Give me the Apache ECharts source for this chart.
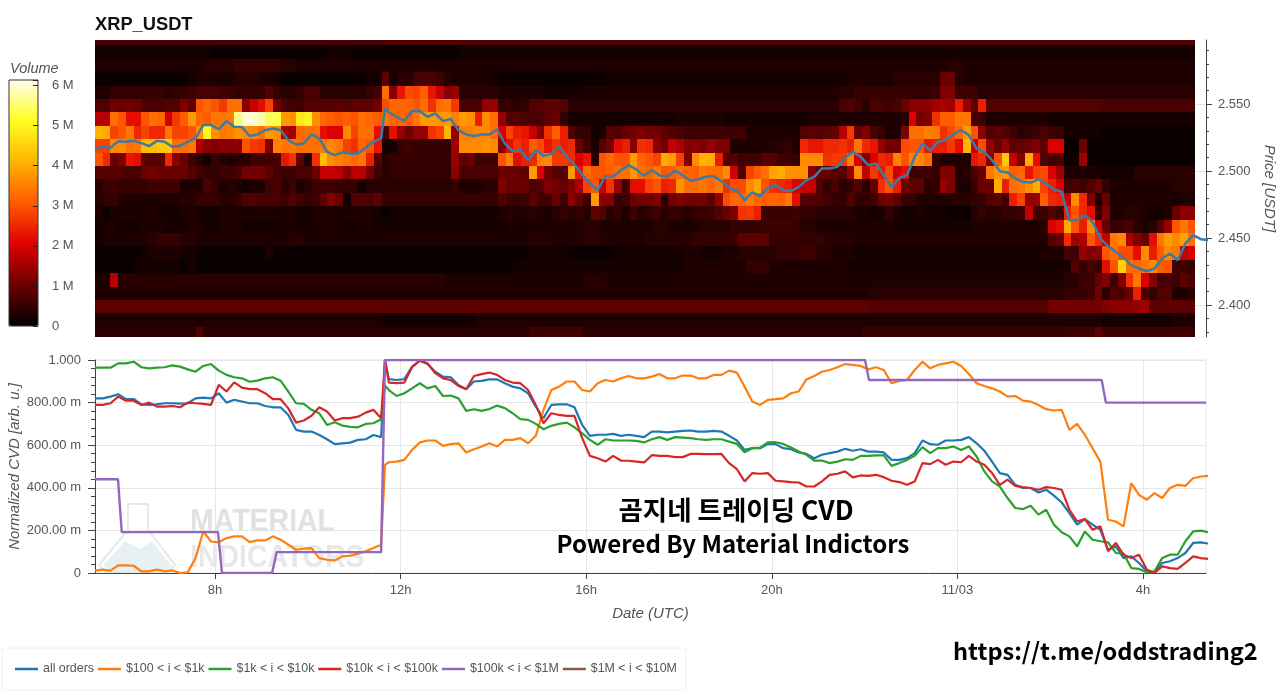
<!DOCTYPE html>
<html>
<head>
<meta charset="utf-8">
<title>XRP_USDT CVD</title>
<script src="https://cdn.jsdelivr.net/npm/echarts@6/dist/echarts.min.js"></script>
<style>
  html, body { margin: 0; padding: 0; background: #fff; }
  #chart { width: 1280px; height: 691px; }
</style>
</head>
<body>
<div id="chart"></div>
<script>
// price axis (USDT)
const priceTicks = [2.4, 2.45, 2.5, 2.55]
const priceMinorTicks = [2.38, 2.39, 2.41, 2.42, 2.43, 2.44, 2.46, 2.47, 2.48, 2.49, 2.51, 2.52, 2.53, 2.54, 2.56, 2.57, 2.58, 2.59]
// hours since 11/02 00:00
const hourTicks = [8, 12, 16, 20, 24, 28]
const hourLabels = ['8h', '12h', '16h', '20h', '11/03', '4h']
const cvdLabels = ['0', '200.00 m', '400.00 m', '600.00 m', '800.00 m', '1.000']
const volumeLabels = ['0', '1 M', '2 M', '3 M', '4 M', '5 M', '6 M']

// lower edge of each volume bin, top row first
const heatBinLow = [2.5937, 2.5837, 2.5737, 2.5637, 2.5537, 2.5437, 2.5337, 2.5237, 2.5137, 2.5037, 2.4937, 2.4837, 2.4737, 2.4637, 2.4537, 2.4437, 2.4337, 2.4237, 2.4137, 2.4037, 2.3937, 2.3837, 2.3737]

// volume per 10 minute bin, in 0.1 M
const heat00 = [7,7,7,7,7,7,7,7,7,7, 7,7,7,7,7,7,7,7,7,7, 7,7,7,7,7,7,7,7,7,7, 7,7,7,7,7,7,7,8,8,8, 8,8,8,8,8,8,8,8,8,8, 8,8,8,8,8,8,8,8,8,8, 8,8,8,8,8,8,8,8,8,8, 8,8,8,8,8,8,8,8,8,8, 8,8,8,8,8,8,8,8,8,8, 8,8,8,8,8,8,8,8,8,8, 8,8,8,8,8,8,8,8,8,8, 8,8,8,8,8,8,8,8,8,8, 8,8,8,8,8,8,8,8,8,8, 8,8,8,8,8,8,8,8,8,8, 8,8]
const heat01 = [2,2,2,2,2,2,2,2,2,2, 2,2,2,2,2,1,1,1,1,1, 1,1,1,1,1,1,1,1,1,1, 2,2,2,1,1,1,1,1,1,1, 1,1,1,1,1,1,1,2,2,2, 2,2,2,2,2,2,2,2,2,2, 2,2,2,2,2,2,2,2,2,2, 2,2,2,2,2,2,2,2,2,2, 2,2,2,2,2,2,2,2,2,2, 2,2,2,2,2,2,2,2,2,2, 2,2,2,2,2,2,2,2,2,2, 2,2,2,2,2,2,2,2,2,2, 2,2,2,2,2,2,2,2,2,2, 2,2,2,2,2,2,2,2,2,2, 2,2]
const heat02 = [3,3,3,3,3,3,3,3,3,3, 3,3,3,3,4,4,4,4,5,5, 5,5,5,5,4,4,3,3,3,3, 3,3,3,3,3,3,3,3,3,3, 3,3,3,3,3,3,3,3,3,3, 3,3,3,3,3,3,3,3,3,3, 3,3,3,3,3,3,3,3,3,3, 3,3,3,3,3,3,3,3,3,3, 3,3,3,3,3,3,3,3,3,3, 3,3,3,3,3,3,3,3,3,3, 3,3,3,3,3,3,3,3,3,3, 4,4,3,3,3,3,3,3,3,3, 3,3,3,3,3,3,3,3,3,3, 3,3,3,3,3,3,3,3,3,3, 3,3]
const heat03 = [1,1,1,1,1,1,1,1,1,1, 1,1,2,3,3,3,3,3,4,4, 4,3,3,2,1,1,1,1,1,1, 1,1,1,1,1,2,2,9,2,4, 4,7,7,7,6,4,3,3,3,3, 3,2,1,1,1,1,1,1,1,1, 1,1,1,1,1,1,2,2,2,2, 2,2,2,2,2,2,2,2,2,2, 2,2,2,2,2,2,2,2,2,2, 2,2,2,2,2,2,2,3,3,3, 3,3,3,4,4,4,4,4,4,10, 10,4,3,3,3,3,3,3,3,3, 3,3,3,3,3,3,3,3,3,3, 3,3,3,3,3,3,3,3,3,3, 3,3]
const heat04 = [3,3,5,5,5,5,5,5,5,4, 5,5,6,7,7,7,6,6,5,5, 5,5,8,5,4,4,5,7,7,4, 4,4,4,4,4,5,7,33,13,23, 29,28,31,23,18,13,14,4,4,4, 4,4,3,3,3,3,3,3,2,2, 2,2,2,3,3,3,3,3,3,3, 3,3,3,3,3,3,3,3,3,3, 3,3,3,3,3,3,3,3,3,3, 3,3,3,3,3,3,4,4,5,5, 5,5,5,5,5,5,5,5,6,12, 12,6,6,6,4,4,4,4,4,4, 4,4,4,4,4,4,4,4,4,4, 4,4,4,4,4,4,4,4,4,4, 4,4]
const heat05 = [8,7,11,10,11,10,7,7,7,8, 8,12,9,30,32,30,27,33,33,13, 18,22,28,11,7,6,6,8,8,8, 8,9,8,9,9,9,11,29,32,32, 32,30,33,26,33,34,27,7,7,7, 14,14,5,5,4,5,8,8,9,9, 8,4,4,4,4,4,4,4,4,4, 4,4,4,4,4,4,4,4,4,4, 4,4,4,4,4,4,4,4,4,4, 4,4,4,4,4,4,7,8,6,4, 7,7,6,7,10,13,13,13,15,16, 15,24,14,9,24,8,8,8,8,8, 8,8,8,8,8,8,8,8,8,8, 7,7,7,7,7,7,7,7,7,7, 7,7]
const heat06 = [17,17,33,30,22,22,30,33,32,19, 27,31,38,32,31,34,34,35,56,60, 60,58,54,53,38,37,48,50,37,32, 31,30,31,30,33,32,31,34,32,32, 31,34,38,38,37,38,35,38,37,24, 36,33,14,8,8,7,7,7,9,10, 5,2,2,2,2,2,2,2,2,2, 2,2,2,2,2,3,3,3,3,3, 3,2,2,2,2,2,2,2,2,2, 2,2,3,3,3,3,3,3,3,3, 3,3,3,3,4,20,11,12,26,31, 31,34,34,7,6,3,3,3,3,3, 3,3,3,2,2,2,2,2,2,2, 2,2,2,2,2,2,2,2,2,2, 2,2]
const heat07 = [41,40,28,30,34,25,28,25,25,34, 28,28,30,37,50,37,34,35,37,36, 36,33,38,37,16,15,32,33,33,22, 20,20,36,28,33,33,22,7,22,14, 11,14,14,26,28,41,14,35,35,36, 36,33,20,28,24,23,18,13,26,31, 24,8,5,5,2,3,8,8,10,11, 12,11,11,9,8,7,6,6,6,6, 6,6,6,6,3,3,3,3,3,3, 3,8,9,8,9,10,17,27,10,12, 7,5,3,3,12,33,33,35,34,26, 29,32,38,30,13,8,9,8,6,4, 5,6,7,6,5,2,2,2,2,2, 1,1,1,1,1,1,1,1,1,1, 1,1]
const heat08 = [28,28,36,36,33,34,42,42,44,44, 33,33,34,16,13,12,13,13,13,30, 27,26,12,35,34,34,33,33,33,34, 36,34,28,26,32,30,23,2,2,5, 6,5,5,5,5,5,15,36,36,36, 37,36,12,22,26,24,31,29,23,26, 24,25,10,6,3,8,11,22,24,13, 26,25,13,11,18,16,12,13,12,14, 12,12,3,3,3,3,3,4,4,5, 3,25,23,23,25,25,26,24,34,25, 23,14,11,11,29,30,30,23,24,24, 27,22,41,18,29,14,10,14,9,10, 11,12,9,20,20,1,1,10,1,1, 1,1,1,1,1,1,1,1,1,1, 1,1]
const heat09 = [30,25,10,12,23,22,9,8,9,25, 13,10,6,4,2,5,4,3,4,4, 6,6,6,7,23,26,9,3,26,42, 36,35,34,32,34,24,8,4,5,5, 5,5,5,5,5,5,14,9,10,6, 6,6,30,35,22,24,25,35,36,27, 27,25,20,23,4,30,32,30,30,38, 32,30,28,40,38,28,12,36,41,40, 24,8,8,6,6,6,8,8,6,6, 5,36,36,36,26,27,27,35,20,12, 20,25,24,35,30,36,36,33,5,3, 3,3,3,23,25,12,30,44,18,12, 40,22,8,6,7,1,2,15,1,1, 1,1,1,1,1,1,1,1,1,1, 1,1]
const heat10 = [8,8,8,8,7,7,10,11,10,10, 10,10,8,6,5,5,6,6,7,11, 11,11,9,6,6,6,7,7,10,18, 18,17,13,17,17,11,6,4,5,5, 5,5,5,5,5,5,13,7,7,7, 7,7,10,10,10,9,38,20,11,8, 8,38,23,33,30,30,31,33,33,38, 33,32,34,30,31,33,32,31,34,33, 33,36,19,8,28,31,33,39,40,37, 37,37,13,10,10,8,8,14,36,18, 27,23,29,19,22,6,6,6,5,12, 12,3,4,7,10,34,37,38,31,32, 23,28,29,20,15,3,3,3,3,2, 2,2,2,2,4,4,4,4,4,4, 4,4]
const heat11 = [4,6,6,5,5,5,5,6,6,6, 6,3,3,3,7,5,3,4,3,2, 3,3,6,7,4,6,3,4,6,6, 6,5,5,5,2,4,4,4,4,4, 4,4,4,4,4,4,5,3,3,3, 4,4,12,10,10,10,7,8,12,11, 10,12,16,28,30,18,26,14,6,22, 22,28,30,24,25,37,33,33,34,32, 34,26,29,29,36,39,30,26,25,24, 20,19,18,8,5,7,4,5,8,4, 9,26,30,24,10,9,9,4,5,14, 12,3,3,5,10,10,40,24,33,34, 37,40,28,24,20,6,7,6,8,10, 5,3,3,3,3,3,3,3,3,4, 4,4]
const heat12 = [4,5,5,3,3,3,3,3,3,3, 3,4,4,5,5,5,4,4,5,8, 8,7,7,7,6,8,6,5,6,9, 12,10,2,8,8,7,9,5,5,5, 5,5,5,5,5,5,5,5,5,5, 5,5,8,6,5,6,9,6,6,10, 6,13,10,6,38,13,13,5,6,10, 11,11,12,4,10,12,11,11,11,9, 14,29,32,32,34,32,31,32,31,34, 22,8,8,8,6,5,5,8,5,5, 6,10,11,9,5,5,3,3,3,3, 4,4,4,5,5,8,9,6,24,28, 14,14,31,25,24,18,36,25,12,3, 10,3,3,3,3,3,3,3,3,2, 3,3]
const heat13 = [3,1,3,3,3,3,3,3,2,2, 2,3,3,2,2,2,3,3,3,3, 3,3,3,3,3,3,2,2,3,3, 3,3,3,3,3,3,2,1,2,2, 2,2,2,2,2,2,2,2,2,2, 2,2,3,4,3,4,4,3,3,4, 5,4,5,4,9,8,4,5,3,6, 4,5,6,4,5,5,4,5,5,6, 8,10,12,26,27,24,6,5,5,5, 6,5,5,4,4,4,4,4,3,3, 2,3,5,3,2,2,3,2,2,2, 1,1,1,4,5,4,4,5,5,6, 18,6,6,8,6,24,30,25,22,5, 12,3,3,4,4,3,2,2,3,10, 13,13]
const heat14 = [2,3,3,2,2,2,3,3,3,2, 2,2,3,3,2,2,3,3,3,2, 2,2,2,2,3,3,2,2,3,3, 3,3,2,2,3,3,2,2,2,2, 2,2,2,2,2,2,2,2,2,2, 2,2,2,3,3,2,3,3,3,3, 3,3,3,4,4,3,3,3,3,3, 3,3,4,4,3,3,3,3,4,4, 4,4,5,5,5,5,6,6,6,6, 5,4,4,3,3,3,3,3,3,3, 3,3,3,2,2,2,2,2,2,2, 2,2,2,3,3,3,3,3,3,3, 3,3,4,20,22,40,30,24,36,20, 10,5,6,7,4,3,4,8,14,30, 34,30]
const heat15 = [2,3,3,3,3,3,3,4,5,5, 5,4,4,3,3,3,3,3,3,3, 3,3,3,3,3,4,4,3,3,3, 3,3,3,3,3,3,3,3,3,3, 3,3,3,3,3,3,3,3,3,3, 3,3,3,3,3,3,4,4,4,3, 3,3,3,4,4,4,3,3,3,3, 3,4,4,4,4,4,4,5,5,5, 5,5,5,9,9,9,9,5,5,5, 5,5,5,5,4,4,4,4,3,3, 3,3,3,3,3,3,3,3,3,3, 3,3,3,3,3,3,3,3,3,3, 3,3,3,8,10,25,15,16,30,25, 18,34,36,16,12,10,22,34,38,36, 39,33]
const heat16 = [1,1,1,1,1,1,2,3,3,3, 3,2,2,1,1,1,1,1,1,1, 1,1,3,1,1,1,1,1,1,1, 1,1,1,1,1,1,1,1,1,1, 1,1,1,1,1,1,1,1,1,1, 1,1,1,1,1,1,2,2,2,2, 2,1,1,1,1,1,1,2,2,2, 2,2,2,2,2,2,3,3,2,2, 2,3,3,4,4,4,4,4,5,5, 5,6,6,4,4,3,3,3,2,2, 2,2,2,2,2,2,2,2,2,2, 2,2,2,2,2,2,2,2,2,2, 2,2,3,3,3,7,6,14,12,13, 30,33,29,29,22,36,24,31,36,34, 18,20]
const heat17 = [1,1,1,1,1,2,2,2,2,2, 2,1,2,1,1,1,1,1,1,1, 1,1,1,1,1,1,1,1,1,1, 1,1,1,1,1,1,1,1,1,1, 1,1,1,1,1,1,1,1,1,1, 1,1,1,1,2,2,2,2,2,2, 2,2,2,2,2,2,2,2,2,2, 2,2,2,2,2,2,3,3,3,3, 3,3,3,3,5,5,5,3,3,3, 3,3,3,3,3,3,3,2,2,2, 2,2,2,2,2,2,2,2,2,2, 2,2,2,2,2,2,2,2,2,2, 2,2,2,2,2,3,8,5,7,5, 22,30,45,33,32,34,36,31,30,6, 6,5]
const heat18 = [3,3,17,4,4,4,4,4,4,4, 4,4,4,4,4,4,4,4,4,4, 4,4,4,4,4,4,4,4,4,4, 4,4,4,4,4,4,4,4,4,4, 4,4,4,4,4,3,3,3,3,3, 3,3,3,3,3,3,3,3,3,3, 3,3,3,4,4,4,3,3,3,3, 3,3,3,3,3,3,3,3,3,3, 3,3,3,3,3,3,3,3,3,3, 3,3,3,3,3,3,3,3,3,3, 3,3,3,3,3,3,3,3,3,3, 3,3,3,3,3,3,3,3,3,3, 3,3,3,3,3,4,4,6,6,10, 12,6,12,26,34,20,12,6,7,6, 9,7]
const heat19 = [3,3,3,3,3,3,3,3,3,3, 3,3,3,3,3,3,3,3,3,3, 3,3,3,3,3,3,3,3,3,3, 3,3,3,3,3,3,3,3,3,3, 3,3,3,3,3,3,3,3,3,3, 3,3,3,3,3,3,3,3,3,3, 3,3,3,3,3,3,3,3,3,3, 3,3,3,3,3,3,3,3,3,3, 3,3,3,3,3,3,3,3,3,3, 3,3,3,3,3,3,3,3,3,3, 4,4,4,4,4,4,4,4,4,4, 4,4,4,4,4,4,4,4,4,4, 4,4,4,4,4,5,5,5,6,11, 4,8,7,10,24,7,5,8,8,3, 3,4]
const heat20 = [9,9,9,9,9,9,9,9,9,9, 9,9,9,9,9,9,9,9,9,9, 9,9,9,9,9,9,9,9,9,9, 9,9,9,9,9,9,9,9,9,9, 9,9,9,9,9,9,9,9,9,9, 9,9,9,9,9,9,9,9,9,9, 9,9,9,9,9,9,9,9,9,9, 9,9,9,9,9,9,9,9,9,9, 9,9,9,9,9,9,9,9,9,9, 9,9,9,9,9,9,9,9,9,9, 8,8,8,8,8,8,8,8,8,8, 8,8,8,8,8,8,8,8,8,8, 8,8,8,11,11,11,11,11,11,11, 12,13,13,13,14,15,9,9,9,9, 9,9]
const heat21 = [3,3,3,3,3,3,3,3,3,3, 3,3,3,3,3,3,3,3,3,3, 3,3,3,3,3,3,3,3,3,3, 3,3,3,3,3,3,3,2,2,2, 2,2,2,2,2,2,2,2,2,3, 3,3,3,3,3,3,3,3,3,3, 3,3,3,3,3,3,3,3,3,3, 3,3,3,3,3,3,3,3,3,3, 3,3,3,3,3,3,3,3,3,3, 3,3,3,3,3,3,3,3,3,3, 3,3,3,3,3,3,3,3,3,3, 3,3,3,3,3,3,3,3,3,3, 3,3,3,3,3,3,3,3,3,3, 2,2,2,2,2,2,2,2,2,3, 3,3]
const heat22 = [4,4,4,4,4,4,4,4,4,4, 4,4,4,8,4,4,4,4,4,4, 4,4,4,4,4,4,4,4,4,4, 4,4,4,4,4,4,4,4,4,4, 4,4,4,4,4,4,4,4,4,4, 4,4,4,4,4,4,6,6,6,6, 6,6,6,4,4,4,4,4,4,4, 4,4,4,4,4,4,4,4,4,4, 4,4,4,4,4,4,4,4,4,4, 4,4,4,4,4,4,4,4,4,5, 5,5,5,5,5,5,5,5,5,5, 5,5,5,5,5,5,5,5,5,5, 5,5,5,5,5,6,6,6,6,9, 6,6,6,6,6,6,6,6,6,6, 6,6]
const heatRows = [heat00, heat01, heat02, heat03, heat04, heat05, heat06, heat07, heat08, heat09, heat10, heat11, heat12, heat13, heat14, heat15, heat16, heat17, heat18, heat19, heat20, heat21, heat22]

// traded price, one point per 10 minutes (the extra 39th point is the 11:40 jump)
const priceLine = [2.5163,2.5183,2.5173,2.5223,2.5218,2.5226,2.5208,2.5186,2.5226,2.5218,2.5181,2.5188,2.5218,2.5248,2.5343,2.5343,2.5313,2.5373,2.533,2.5328,2.5261,2.5273,2.5305,2.5318,2.5305,2.5231,2.5198,2.5206,2.5273,2.5243,2.5143,2.5119,2.5139,2.5131,2.5131,2.5173,2.5218,2.5243,2.5467,2.5437,2.5405,2.5373,2.5447,2.5447,2.5405,2.543,2.5373,2.5388,2.5305,2.5273,2.5261,2.5273,2.5273,2.531,2.5206,2.5148,2.5161,2.5081,2.5156,2.5114,2.5126,2.5186,2.5106,2.5049,2.4974,2.4907,2.4857,2.4962,2.4957,2.5007,2.5044,2.5012,2.4964,2.5007,2.4969,2.4957,2.5002,2.4969,2.4927,2.4937,2.4957,2.4962,2.4924,2.487,2.4857,2.4782,2.484,2.4812,2.4875,2.4894,2.4857,2.485,2.4882,2.4932,2.4957,2.5019,2.5019,2.5031,2.5099,2.5143,2.5106,2.5044,2.5056,2.4969,2.4882,2.4949,2.4969,2.5106,2.5206,2.5151,2.5218,2.5231,2.5275,2.5305,2.5268,2.5168,2.5143,2.5081,2.4999,2.4989,2.4944,2.4919,2.4914,2.4937,2.4907,2.4862,2.4845,2.4633,2.4633,2.467,2.4621,2.4496,2.4441,2.4396,2.4354,2.4297,2.4272,2.4252,2.4272,2.4347,2.4384,2.4334,2.4459,2.4521,2.4491,2.4484]

// normalized CVD in milli units, same sampling as priceLine
const cvdAll = [820,820,828,839,816,817,792,789,792,797,797,795,797,820,823,820,844,800,813,805,797,797,784,778,778,742,672,664,664,648,628,605,609,612,625,628,648,638,1000,910,906,910,969,997,981,945,922,919,883,863,899,902,909,909,891,875,867,844,781,727,789,792,792,778,695,644,649,649,653,644,649,644,638,664,664,660,664,667,669,664,664,667,664,644,622,578,586,586,605,605,586,581,566,559,539,555,563,570,583,574,581,570,570,566,531,531,539,563,622,605,602,622,622,625,638,609,574,523,469,461,414,399,399,378,391,363,331,281,227,253,227,203,109,125,70,78,47,8,3,47,55,70,94,141,144,138]
const cvd100 = [11,16,11,36,36,34,8,8,16,8,12,0,3,70,195,148,144,164,172,172,145,153,153,172,156,133,109,114,117,70,62,59,78,81,91,102,117,133,508,520,523,531,578,613,622,622,597,605,609,566,581,594,609,594,625,625,633,609,644,766,859,875,899,899,859,852,891,906,899,914,925,914,914,922,934,914,914,927,927,914,914,930,930,950,941,875,805,789,813,816,820,844,852,909,925,945,953,966,981,977,972,956,966,953,891,902,906,953,992,961,977,984,992,972,934,891,878,867,852,828,831,809,805,789,769,763,766,672,700,649,586,523,250,242,219,422,367,344,375,352,399,414,409,445,453,456]
const cvd1k = [964,964,964,984,984,992,966,961,964,966,975,969,956,945,972,981,950,930,919,914,898,903,914,919,903,852,797,794,766,750,695,708,692,686,684,700,703,722,880,859,831,844,867,891,867,878,831,833,820,761,769,761,770,786,774,750,722,719,700,675,691,700,706,684,656,625,602,628,622,622,622,620,613,628,638,625,638,636,633,628,625,628,628,617,606,567,586,589,613,614,606,589,570,555,528,528,516,523,534,531,550,550,552,552,503,516,531,550,591,563,586,586,594,578,594,547,477,430,406,352,305,300,316,274,297,227,191,172,125,195,156,149,144,94,91,23,19,3,8,70,86,86,149,195,199,191]
const cvd10k = [789,789,797,828,809,809,789,800,781,781,784,778,800,797,794,789,883,852,895,870,863,863,844,816,816,773,706,716,738,778,758,716,727,727,734,753,766,727,1000,894,891,894,966,997,984,938,914,906,878,863,925,934,941,930,906,894,891,859,789,703,750,742,738,738,633,550,539,523,550,528,527,523,519,553,550,550,544,544,559,559,558,558,559,516,488,430,469,466,469,433,430,427,425,406,406,430,461,466,477,449,458,456,461,450,433,427,414,430,516,511,531,508,523,520,550,523,508,469,414,438,409,403,399,391,403,399,391,297,242,253,203,219,102,141,86,70,86,16,0,31,23,19,47,78,70,66]

// $100k < i < $1M is a step line, kept as hour / value pairs
const cvd100kHours = [5.414, 5.91, 5.99, 8.065, 8.15, 9.23, 9.33, 11.58, 11.664, 22.01, 22.095, 27.11, 27.2, 29.358]
const cvd100kValues = [440, 440, 192, 192, 0, 0, 98, 98, 1000, 1000, 906, 906, 800, 800]

const seriesNames = ['all orders', '$100 < i < $1k', '$1k < i < $10k', '$10k < i < $100k', '$100k < i < $1M', '$1M < i < $10M']
const seriesColors = ['#1f77b4', '#ff7f0e', '#2ca02c', '#d62728', '#9467bd', '#8c564b']

const hourMin = 5.414
const hourMax = 29.358
const heatBin = 0.167
const heatRow = 0.01

// 10 minute sampling plus one point for the jump at 11:40
const sampleHours = []
for (let i = 0; i <= 144; i++) {
  if (i === 38) sampleHours.push(11.664)
  sampleHours.push(hourMin + i / 6)
}
const pairs = (values) => values.map((v, i) => [sampleHours[i], v])

const heatData = []
heatRows.forEach((row, r) => {
  row.forEach((v, c) => {
    heatData.push([hourMin + c * heatBin, heatBinLow[r], v * 1e5])
  })
})

function renderHeatCell(params, api) {
  const a = api.coord([api.value(0), api.value(1) + heatRow])
  const b = api.coord([api.value(0) + heatBin, api.value(1)])
  const x = Math.round(a[0])
  const y = Math.round(a[1])
  const shape = echarts.graphic.clipRectByRect(
    { x, y, width: Math.round(b[0]) - x, height: Math.round(b[1]) - y },
    params.coordSys
  )
  return shape && { type: 'rect', shape, style: { fill: api.visual('color') } }
}

const labelColor = '#555'
const axisColor = '#444'
const gridColor = '#e6e6e6'
const titleFont = { fontStyle: 'italic', fontSize: 15, color: labelColor }

const cvdLine = (name, data, color, width) => ({
  name,
  type: 'line',
  xAxisIndex: 1,
  yAxisIndex: 2,
  data,
  showSymbol: false,
  animation: false,
  lineStyle: { color, width },
  itemStyle: { color }
})

const chart = echarts.init(document.getElementById('chart'))
chart.setOption({
  animation: false,
  textStyle: { fontFamily: '"Liberation Sans", Arial, sans-serif' },
  title: {
    text: 'XRP_USDT',
    left: 95,
    top: 16,
    padding: 0,
    textStyle: { fontSize: 18.3, fontWeight: 'bold', color: '#111' }
  },
  grid: [
    { left: 95, top: 40, width: 1111, height: 297, outerBoundsMode: 'none' },
    { left: 95, top: 360, width: 1111, height: 213, show: true, borderColor: gridColor, borderWidth: 1, outerBoundsMode: 'none' },
    { left: 9, top: 80, width: 29, height: 246, show: true, borderColor: '#333', borderWidth: 1, z: 5, outerBoundsMode: 'none' }
  ],
  xAxis: [
    { gridIndex: 0, type: 'value', min: hourMin, max: hourMax, show: false },
    {
      gridIndex: 1,
      type: 'value',
      min: hourMin,
      max: hourMax,
      name: 'Date (UTC)',
      nameLocation: 'middle',
      nameGap: 33,
      nameTextStyle: titleFont,
      axisLine: { lineStyle: { color: axisColor, width: 1 } },
      axisTick: { length: 6, lineStyle: { color: axisColor }, customValues: hourTicks },
      axisLabel: {
        color: labelColor,
        fontSize: 13,
        margin: 11,
        customValues: hourTicks,
        formatter: (v) => hourLabels[hourTicks.indexOf(v)]
      },
      splitLine: { show: true, lineStyle: { color: gridColor } }
    },
    { gridIndex: 2, type: 'value', min: 0, max: 1, show: false }
  ],
  yAxis: [
    {
      gridIndex: 0,
      type: 'value',
      position: 'right',
      min: 2.3761,
      max: 2.5978,
      name: 'Price [USDT]',
      nameLocation: 'middle',
      nameRotate: -90,
      nameGap: 56,
      nameTextStyle: titleFont,
      axisLine: { show: true, onZero: false, lineStyle: { color: axisColor } },
      axisTick: { length: 6, lineStyle: { color: axisColor }, customValues: priceTicks },
      axisLabel: {
        color: labelColor,
        fontSize: 13,
        margin: 12,
        customValues: priceTicks,
        formatter: (v) => v.toFixed(3)
      },
      splitLine: { show: true, lineStyle: { color: gridColor } }
    },
    {
      gridIndex: 0,
      type: 'value',
      position: 'right',
      min: 2.3761,
      max: 2.5978,
      axisLine: { show: false },
      axisTick: { show: true, length: 3, lineStyle: { color: axisColor }, customValues: priceMinorTicks },
      axisLabel: { show: false },
      splitLine: { show: false }
    },
    {
      gridIndex: 1,
      type: 'value',
      min: 0,
      max: 1000,
      interval: 200,
      name: 'Normalized CVD [arb. u.]',
      nameLocation: 'middle',
      nameGap: 73,
      nameMoveOverlap: false,
      nameTextStyle: titleFont,
      axisLine: { show: true, lineStyle: { color: axisColor } },
      axisTick: { show: true, length: 7, lineStyle: { color: axisColor } },
      minorTick: { show: true, splitNumber: 5, length: 4, lineStyle: { color: axisColor } },
      axisLabel: { color: labelColor, fontSize: 13, margin: 14, formatter: (v) => cvdLabels[v / 200] },
      splitLine: { show: true, lineStyle: { color: gridColor } }
    },
    {
      gridIndex: 2,
      type: 'value',
      position: 'right',
      min: 0,
      max: 6.14e6,
      interval: 1e6,
      z: 6,
      axisLine: { show: false, onZero: false },
      axisTick: { show: true, inside: true, length: 5, lineStyle: { color: '#222' } },
      axisLabel: { color: labelColor, fontSize: 13, margin: 14, formatter: (v) => volumeLabels[v / 1e6] },
      splitLine: { show: false }
    }
  ],
  visualMap: {
    type: 'continuous',
    seriesIndex: 0,
    dimension: 2,
    min: 0,
    max: 6.14e6,
    left: 9,
    top: 80,
    padding: 0,
    itemWidth: 29,
    itemHeight: 246,
    calculable: false,
    hoverLink: false,
    z: 1,
    inRange: { color: ['#000000', '#6a0000', '#e00000', '#ff5a00', '#ffb400', '#ffff20', '#fffdf0'] }
  },
  legend: {
    left: 2,
    top: 648,
    padding: [15, 9, 15, 13],
    borderColor: '#f0f0f0',
    borderWidth: 1,
    itemWidth: 23,
    itemHeight: 2.5,
    itemGap: 4,
    icon: 'rect',
    data: seriesNames,
    textStyle: { fontSize: 12.4, color: labelColor }
  },
  graphic: [
    { type: 'text', left: 10, top: 61, style: { text: 'Volume', fontStyle: 'italic', fontSize: 14.5, fill: labelColor } },
    // watermark
    { type: 'polygon', z: 1, shape: { points: [[103, 566], [125, 541], [140, 549], [152, 541], [172, 566], [165, 571], [110, 571]] }, style: { fill: '#e8f1f2' } },
    { type: 'polyline', z: 1, shape: { points: [[128, 504], [128, 530], [99, 565], [106, 572], [168, 572], [175, 565], [148, 530], [148, 504], [128, 504]] }, style: { stroke: '#e6e8ea', lineWidth: 2, fill: 'none' } },
    { type: 'text', z: 1, x: 190, y: 506, scaleX: 0.89, style: { text: 'MATERIAL', fontFamily: 'Liberation Sans', fontWeight: 'bold', fontSize: 32, fill: '#dfe1e3' } },
    { type: 'text', z: 1, x: 190, y: 542, scaleX: 0.89, style: { text: 'INDICATORS', fontFamily: 'Liberation Sans', fontWeight: 'bold', fontSize: 32, fill: '#e6e8ea' } },
    // overlay captions
    { type: 'text', z: 100, x: 736, y: 510, style: { text: '곰지네 트레이딩 CVD', fontFamily: 'Noto Sans CJK KR', fontWeight: 700, fontSize: 26.5, fill: '#000', align: 'center', verticalAlign: 'middle' } },
    { type: 'text', z: 100, x: 733, y: 544, style: { text: 'Powered By Material Indictors', fontFamily: 'Noto Sans CJK KR', fontWeight: 700, fontSize: 24, fill: '#000', align: 'center', verticalAlign: 'middle' } },
    { type: 'text', z: 100, x: 953, y: 651, style: { text: 'https://t.me/oddstrading2', fontFamily: 'Noto Sans CJK KR', fontWeight: 700, fontSize: 23.6, fill: '#000', verticalAlign: 'middle' } }
  ],
  series: [
    {
      type: 'custom',
      xAxisIndex: 0,
      yAxisIndex: 0,
      renderItem: renderHeatCell,
      data: heatData,
      encode: { x: 0, y: 1 },
      silent: true
    },
    {
      type: 'line',
      xAxisIndex: 0,
      yAxisIndex: 0,
      z: 4,
      data: pairs(priceLine),
      showSymbol: false,
      lineStyle: { color: '#3d7aa6', width: 2.5 }
    },
    cvdLine(seriesNames[0], pairs(cvdAll), seriesColors[0], 2.2),
    cvdLine(seriesNames[1], pairs(cvd100), seriesColors[1], 2.2),
    cvdLine(seriesNames[2], pairs(cvd1k), seriesColors[2], 2.2),
    cvdLine(seriesNames[3], pairs(cvd10k), seriesColors[3], 2.2),
    cvdLine(seriesNames[4], cvd100kHours.map((h, i) => [h, cvd100kValues[i]]), seriesColors[4], 2.4),
    cvdLine(seriesNames[5], [], seriesColors[5], 2.2)
  ]
})
</script>
</body>
</html>
